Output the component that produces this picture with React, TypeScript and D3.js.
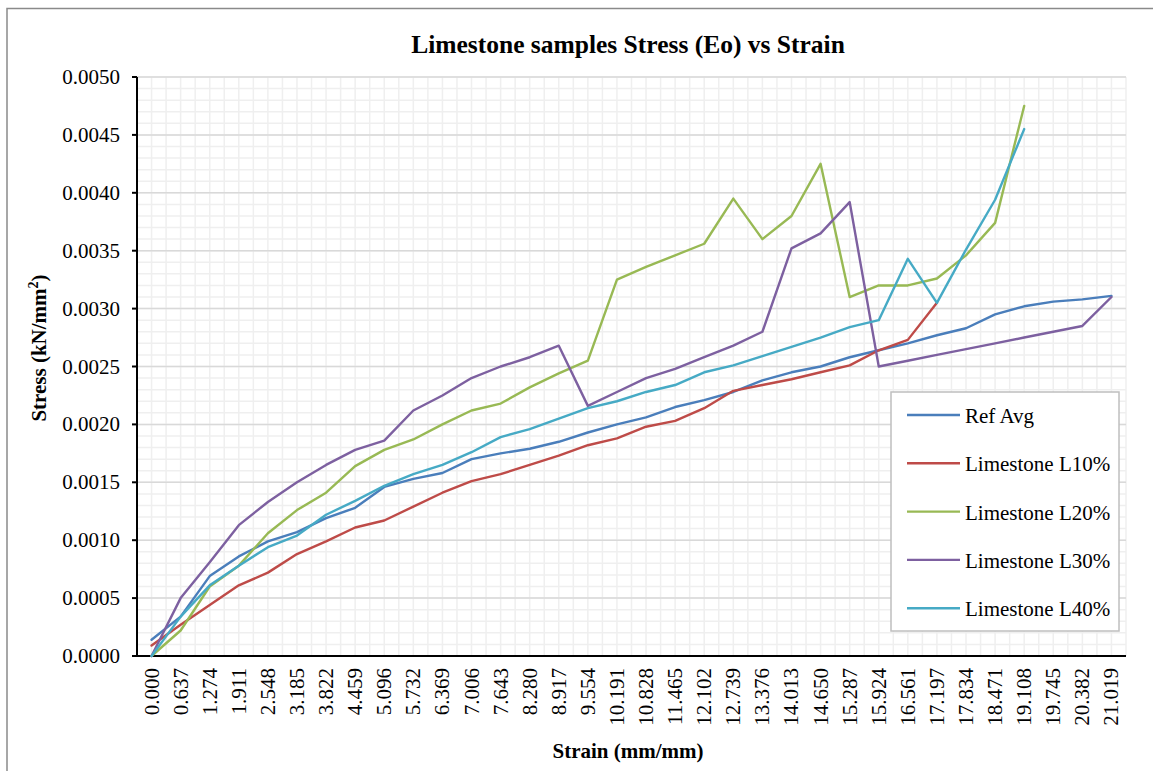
import React from "react";
import * as d3 from "d3";

const categories: string[] = [
  "0.000","0.637","1.274","1.911","2.548","3.185","3.822","4.459","5.096","5.732",
  "6.369","7.006","7.643","8.280","8.917","9.554","10.191","10.828","11.465","12.102",
  "12.739","13.376","14.013","14.650","15.287","15.924","16.561","17.197","17.834","18.471",
  "19.108","19.745","20.382","21.019",
];

const refAvg: (number | null)[] = [
  0.00014,0.00034,0.00069,0.00086,0.00099,0.00107,0.00119,0.00128,0.00146,0.00153,
  0.00158,0.00170,0.00175,0.00179,0.00185,0.00193,0.00200,0.00206,0.00215,0.00221,
  0.00228,0.00238,0.00245,0.00250,0.00258,0.00264,0.00270,0.00277,0.00283,0.00295,
  0.00302,0.00306,0.00308,0.00311,
];
const l10: (number | null)[] = [
  0.00009,0.00027,0.00044,0.00061,0.00072,0.00088,0.00099,0.00111,0.00117,0.00129,
  0.00141,0.00151,0.00157,0.00165,0.00173,0.00182,0.00188,0.00198,0.00203,0.00214,
  0.00229,0.00234,0.00239,0.00245,0.00251,0.00264,0.00273,0.00305,null,null,
  null,null,null,null,
];
const l20: (number | null)[] = [
  0.0,0.00022,0.00060,0.00078,0.00106,0.00126,0.00141,0.00164,0.00178,0.00187,
  0.00200,0.00212,0.00218,0.00232,0.00244,0.00255,0.00325,0.00336,0.00346,0.00356,
  0.00395,0.00360,0.00380,0.00425,0.00310,0.00320,0.00320,0.00326,0.00346,0.00374,
  0.00475,null,null,null,
];
const l30: (number | null)[] = [
  0.0,0.00050,0.00081,0.00113,0.00133,0.00150,0.00165,0.00178,0.00186,0.00212,
  0.00225,0.00240,0.00250,0.00258,0.00268,0.00216,0.00228,0.00240,0.00248,0.00258,
  0.00268,0.00280,0.00352,0.00365,0.00392,0.00250,0.00255,0.00260,0.00265,0.00270,
  0.00275,0.00280,0.00285,0.00310,
];
const l40: (number | null)[] = [
  0.0,0.00034,0.00061,0.00078,0.00094,0.00104,0.00122,0.00134,0.00147,0.00157,
  0.00165,0.00176,0.00189,0.00196,0.00205,0.00214,0.00220,0.00228,0.00234,0.00245,
  0.00251,0.00259,0.00267,0.00275,0.00284,0.00290,0.00343,0.00305,0.00351,0.00394,
  0.00455,null,null,null,
];

const seriesNames = ["Ref Avg", "Limestone L10%", "Limestone L20%", "Limestone L30%", "Limestone L40%"];
const seriesColors = ["#4a7ebb", "#be4b48", "#98b954", "#7d60a0", "#46aac5"];
const seriesValues = [refAvg, l10, l20, l30, l40];

const yTicks = [0, 0.0005, 0.001, 0.0015, 0.002, 0.0025, 0.003, 0.0035, 0.004, 0.0045, 0.005];

const W = 1153;
const H = 771;
const left = 137;
const right = 1126;
const top = 77;
const bottom = 656;
const FONT = "'Liberation Serif', 'Times New Roman', serif";

export default function App() {
  const x = d3.scaleBand<string>().domain(categories).range([left, right]).padding(0);
  const bw = x.bandwidth();
  const cx = (c: string) => (x(c) as number) + bw / 2;
  const y = d3.scaleLinear().domain([0, 0.005]).range([bottom, top]);

  const minorY = d3.range(0, 51).map((k) => k * 0.0001);
  const vLines = d3.range(0, categories.length * 2 + 1).map((k) => left + (k * bw) / 2);

  const line = d3
    .line<number | null>()
    .defined((d) => d !== null)
    .x((_, i) => cx(categories[i]))
    .y((d) => y(d as number));

  const legX = 891;
  const legY = 392;
  const legEntryY = (i: number) => 415 + i * 48.3;

  return (
    <div style={{ position: "fixed", left: 0, top: 0, width: W, height: H, background: "#fff" }}>
      <svg width={W} height={H} style={{ display: "block" }} fontFamily={FONT}>
        <rect x={0} y={0} width={W} height={H} fill="#fff" />
        <rect x={7} y={8.5} width={W + 20} height={H + 20} fill="none" stroke="#8a8a8a" strokeWidth={1.5} />

        {/* grid */}
        <g>
          {minorY.map((v, k) => (
            <line key={"my" + k} x1={left} x2={right} y1={y(v)} y2={y(v)} stroke="#efefef" strokeWidth={1.5} />
          ))}
          {vLines.map((vx, k) => (
            <line key={"vx" + k} x1={vx} x2={vx} y1={top} y2={bottom} stroke="#efefef" strokeWidth={1.5} />
          ))}
          {yTicks.map((v, k) => (
            <line key={"My" + k} x1={left} x2={right} y1={y(v)} y2={y(v)} stroke="#d9d9d9" strokeWidth={1.5} />
          ))}
        </g>

        {/* axes */}
        <line x1={left} x2={left} y1={top} y2={bottom + 1} stroke="#000" strokeWidth={2} />
        <line x1={left - 1} x2={right} y1={bottom} y2={bottom} stroke="#000" strokeWidth={2} />
        {yTicks.map((v, k) => (
          <g key={"yt" + k}>
            <line x1={left - 5} x2={left} y1={y(v)} y2={y(v)} stroke="#000" strokeWidth={2} />
            <text x={120} y={y(v) + 7} textAnchor="end" fontSize={21} fill="#000">
              {v.toFixed(4)}
            </text>
          </g>
        ))}
        {categories.map((c) => (
          <text
            key={"xt" + c}
            transform={`translate(${cx(c) + 7},668) rotate(-90)`}
            textAnchor="end"
            fontSize={21}
            fill="#000"
          >
            {c}
          </text>
        ))}

        {/* series */}
        {seriesValues.map((vals, s) => (
          <path
            key={"s" + s}
            d={line(vals) || ""}
            fill="none"
            stroke={seriesColors[s]}
            strokeWidth={2.4}
            strokeLinejoin="round"
            strokeLinecap="round"
          />
        ))}

        {/* legend */}
        <rect x={legX} y={legY} width={228} height={239} fill="#fff" stroke="#bfbfbf" strokeWidth={1.5} />
        {seriesNames.map((n, i) => (
          <g key={"lg" + i}>
            <line x1={907} x2={960} y1={legEntryY(i)} y2={legEntryY(i)} stroke={seriesColors[i]} strokeWidth={2.4} />
            <text x={965} y={legEntryY(i) + 8} fontSize={21} fill="#000">
              {n}
            </text>
          </g>
        ))}

        {/* titles */}
        <text x={628} y={53} textAnchor="middle" fontSize={25.5} fontWeight="bold" fill="#000">
          Limestone samples Stress (Eo) vs Strain
        </text>
        <text x={628} y={758} textAnchor="middle" fontSize={21} fontWeight="bold" fill="#000">
          Strain (mm/mm)
        </text>
        <text transform="translate(46,348) rotate(-90)" textAnchor="middle" fontSize={21} fontWeight="bold" fill="#000">
          Stress (kN/mm
          <tspan fontSize={14} dy={-8}>2</tspan>
          <tspan dy={8}>)</tspan>
        </text>
      </svg>
    </div>
  );
}
